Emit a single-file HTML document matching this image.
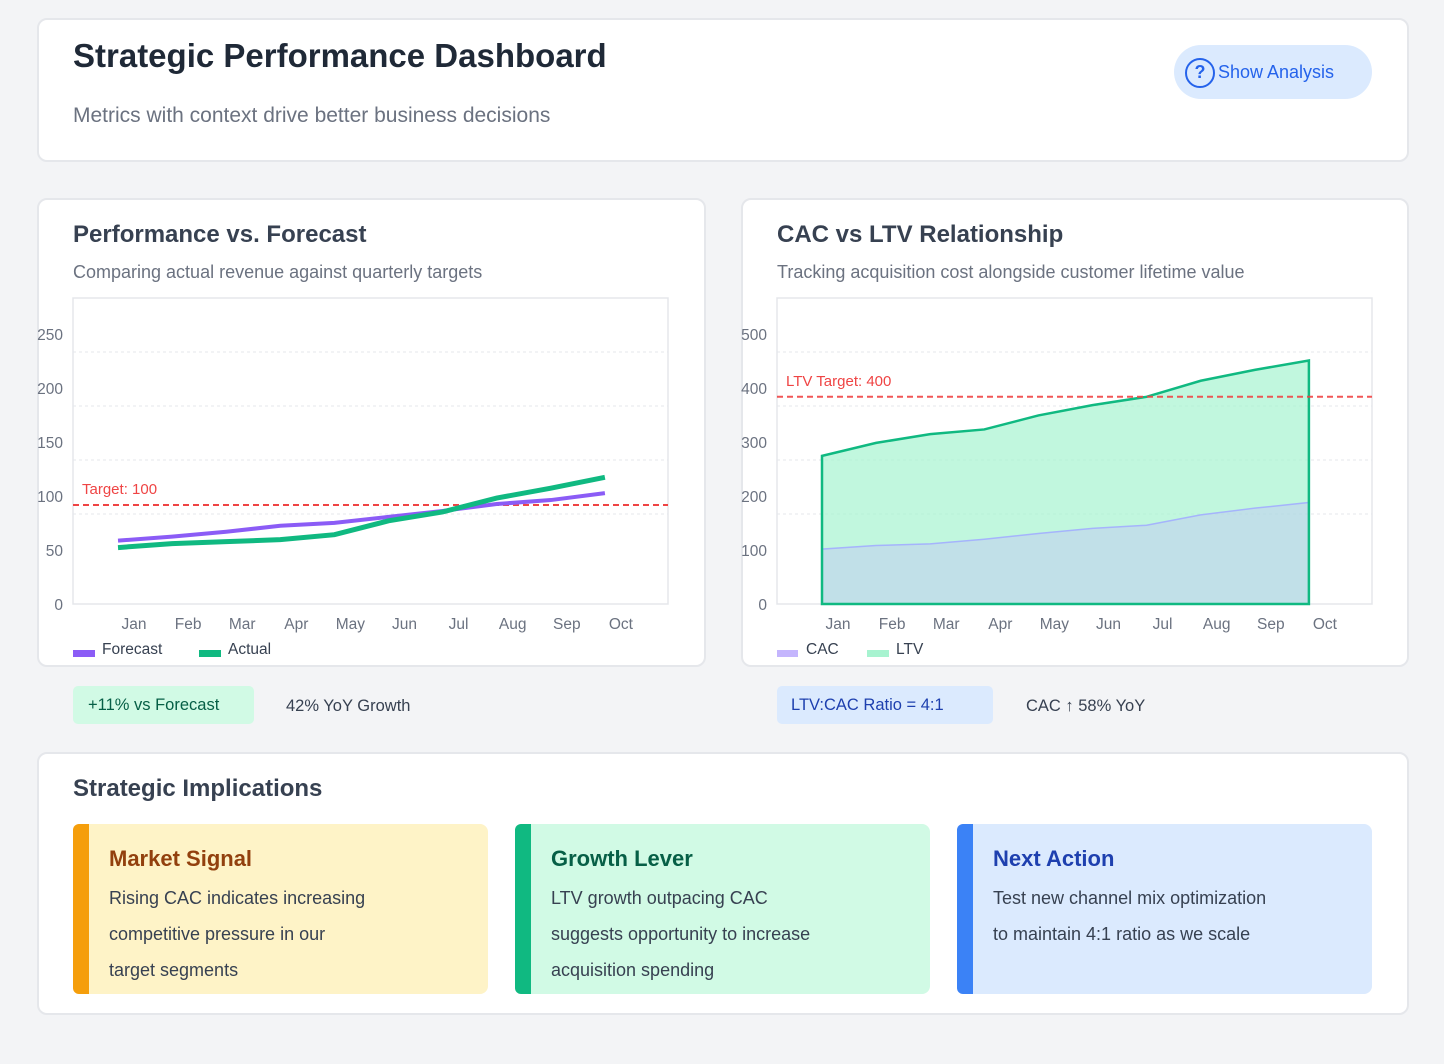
<!DOCTYPE html>
<html><head><meta charset="utf-8">
<style>
*{box-sizing:border-box;margin:0;padding:0}
body{width:1444px;height:1064px;background:#f3f4f6;font-family:"Liberation Sans",Arial,sans-serif;position:relative;overflow:hidden}
.card{position:absolute;background:#fff;border:2px solid #e5e7eb;border-radius:10px}
.abs{position:absolute;white-space:nowrap}
h1{font-size:33px;font-weight:700;color:#1f2937}
.h2{font-size:24px;font-weight:700;color:#374151}
.sub{font-size:18px;color:#6b7280}
.imp{position:absolute;top:824px;height:170px;width:415px;border-radius:8px}
.imp .bar{position:absolute;left:0;top:0;bottom:0;width:16px;border-radius:6px 0 0 6px}
.imp .t{position:absolute;left:36px;top:22px;font-size:22px;font-weight:700}
.imp .b{position:absolute;left:36px;top:56px;font-size:18px;color:#374151;line-height:36px}
</style></head><body>
<div class="card" style="left:37px;top:18px;width:1372px;height:144px"></div>
<h1 class="abs" style="left:73px;top:37px">Strategic Performance Dashboard</h1>
<div class="abs" style="left:73px;top:104px;font-size:21px;color:#6b7280">Metrics with context drive better business decisions</div>
<div class="abs" style="left:1174px;top:45px;width:198px;height:54px;border-radius:27px;background:#dbeafe;color:#2563eb;font-size:18px">
 <span style="position:absolute;left:11px;top:13px;width:30px;height:30px;border:2.5px solid #2563eb;border-radius:50%;text-align:center;line-height:25px;font-weight:700;font-size:18px">?</span>
 <span style="position:absolute;left:44px;top:17px">Show Analysis</span>
</div>

<div class="card" style="left:37px;top:198px;width:669px;height:469px"></div>
<div class="abs h2" style="left:73px;top:221px">Performance vs. Forecast</div>
<div class="abs sub" style="left:73px;top:262px">Comparing actual revenue against quarterly targets</div>

<div class="card" style="left:741px;top:198px;width:668px;height:469px"></div>
<div class="abs h2" style="left:777px;top:221px">CAC vs LTV Relationship</div>
<div class="abs sub" style="left:777px;top:262px">Tracking acquisition cost alongside customer lifetime value</div>

<svg id="chart" class="abs" style="left:0;top:0" width="1444" height="680"></svg>

<div class="abs" style="left:73px;top:686px;width:181px;height:38px;background:#d1fae5;border-radius:5px;color:#065f46;font-size:16.5px;line-height:38px;padding-left:15px">+11% vs Forecast</div>
<div class="abs" style="left:286px;top:697px;font-size:16.5px;color:#374151">42% YoY Growth</div>
<div class="abs" style="left:777px;top:686px;width:216px;height:38px;background:#dbeafe;border-radius:5px;color:#1e40af;font-size:16.5px;line-height:38px;padding-left:14px">LTV:CAC Ratio = 4:1</div>
<div class="abs" style="left:1026px;top:697px;font-size:16.5px;color:#374151">CAC ↑ 58% YoY</div>

<div class="card" style="left:37px;top:752px;width:1372px;height:263px"></div>
<div class="abs h2" style="left:73px;top:775px">Strategic Implications</div>
<div class="imp" style="left:73px;background:#fef3c7"><div class="bar" style="background:#f59e0b"></div><div class="t" style="color:#92400e">Market Signal</div><div class="b">Rising CAC indicates increasing<br>competitive pressure in our<br>target segments</div></div>
<div class="imp" style="left:515px;background:#d1fae5"><div class="bar" style="background:#10b981"></div><div class="t" style="color:#065f46">Growth Lever</div><div class="b">LTV growth outpacing CAC<br>suggests opportunity to increase<br>acquisition spending</div></div>
<div class="imp" style="left:957px;background:#dbeafe"><div class="bar" style="background:#3b82f6"></div><div class="t" style="color:#1e40af">Next Action</div><div class="b">Test new channel mix optimization<br>to maintain 4:1 ratio as we scale</div></div>

<script>
const months=["Jan","Feb","Mar","Apr","May","Jun","Jul","Aug","Sep","Oct"];
const forecast=[64,68,73,79,82,88,94,101,105,112];
const actual=[57,61,63,65,70,84,93,107,117,128];
const leftTicks=[0,50,100,150,200,250];
const target=100;
const cac=[106,113,116,125,136,146,152,172,185,196];
const ltv=[286,311,328,337,364,384,400,431,452,470];
const rightTicks=[0,100,200,300,400,500];
const ltvTarget=400;

const svg=document.getElementById('chart');
const NS='http://www.w3.org/2000/svg';
function mk(tag,attrs,txt){const e=document.createElementNS(NS,tag);for(const k in attrs)e.setAttribute(k,attrs[k]);if(txt!=null)e.textContent=txt;svg.appendChild(e);return e;}

function drawChart(ox,ticks,tickStep,kScale,name){
  const x=i=>ox+45+i*54.1;
  const y=v=>604-v*kScale;
  let g=mk('rect',{x:ox,y:298,width:595,height:306,fill:'#fff',stroke:'#e5e7eb','stroke-width':1.5});
  
  
  ticks.forEach((t,i)=>{
    const ty=604-i*54;
    if(i>0){const gl=mk('line',{x1:ox,x2:ox+595,y1:ty-36,y2:ty-36,stroke:'#e5e7eb','stroke-dasharray':'3,3'});
      
      }
    const tl=mk('text',{x:ox-10,y:ty+6,'text-anchor':'end','font-size':15.5,fill:'#6b7280'},t);
    
    
  });
  months.forEach((m,i)=>{
    const ml=mk('text',{x:x(i)+16,y:629,'text-anchor':'middle','font-size':15.5,fill:'#6b7280'},m);
    
    
  });
  return {x,y};
}
function pts(arr,ax){return arr.map((v,i)=>ax.x(i)+','+ax.y(v)).join(' ');}

const L=drawChart(73,leftTicks,50,0.99,'performance');
let e=mk('line',{x1:73,x2:668,y1:L.y(target),y2:L.y(target),stroke:'#ef4444','stroke-width':2,'stroke-dasharray':'6,4'});


e=mk('text',{x:82,y:L.y(target)-11,'font-size':15,fill:'#ef4444'},'Target: '+target);


e=mk('polyline',{points:pts(forecast,L),fill:'none',stroke:'#8b5cf6','stroke-width':4});


e=mk('polyline',{points:pts(actual,L),fill:'none',stroke:'#10b981','stroke-width':5});


e=mk('rect',{x:73,y:650,width:22,height:7,fill:'#8b5cf6'});


e=mk('text',{x:102,y:654,'font-size':15.5,fill:'#374151'},'Forecast');


e=mk('rect',{x:199,y:650,width:22,height:7,fill:'#10b981'});


e=mk('text',{x:228,y:654,'font-size':15.5,fill:'#374151'},'Actual');



const R=drawChart(777,rightTicks,100,0.518,'cac-ltv');
const base=R.y(0);
e=mk('polygon',{points:R.x(0)+','+base+' '+pts(ltv,R)+' '+R.x(9)+','+base,fill:'#a7f3d0','fill-opacity':0.7,stroke:'none'});


e=mk('polygon',{points:R.x(0)+','+base+' '+pts(cac,R)+' '+R.x(9)+','+base,fill:'#c4b5fd','fill-opacity':0.35,stroke:'#a5b4fc','stroke-width':1.5});


e=mk('polygon',{points:R.x(0)+','+base+' '+pts(ltv,R)+' '+R.x(9)+','+base,fill:'none',stroke:'#10b981','stroke-width':2.5});


e=mk('line',{x1:777,x2:1372,y1:R.y(ltvTarget),y2:R.y(ltvTarget),stroke:'#ef4444','stroke-width':2,'stroke-dasharray':'6,4','stroke-opacity':0.9});


e=mk('text',{x:786,y:R.y(ltvTarget)-11,'font-size':15,fill:'#ef4444'},'LTV Target: '+ltvTarget);


e=mk('rect',{x:777,y:650,width:21,height:7,fill:'#c4b5fd'});


e=mk('text',{x:806,y:654,'font-size':15.5,fill:'#374151'},'CAC');


e=mk('rect',{x:867,y:650,width:22,height:7,fill:'#a7f3d0'});


e=mk('text',{x:896,y:654,'font-size':15.5,fill:'#374151'},'LTV');


</script>
</body></html>
